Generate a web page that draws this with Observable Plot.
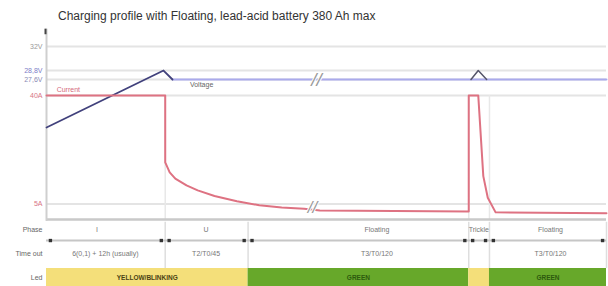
<!DOCTYPE html>
<html><head><meta charset="utf-8">
<script src="https://cdn.jsdelivr.net/npm/d3@7"></script>
<script src="https://cdn.jsdelivr.net/npm/@observablehq/plot@0.6"></script>
<style>
body{margin:0;background:#fff;font-family:"Liberation Sans",Arial,sans-serif;}
#title{height:26px;box-sizing:border-box;padding:10px 0 0 58px;font-size:12px;line-height:13px;color:#333;white-space:nowrap;}
svg{display:block}
</style></head><body>
<div id="title">Charging profile with Floating, lead-acid battery 380 Ah max</div>
<div id="chart"></div>
<script>
// ---- data (schematic time units 0..100, current in A, voltage in V) ----
const currentT = [0, 21.2, 21.2, 22, 23, 25, 27, 30, 34, 38, 42, 46, 48.8, 75.4, 75.4, 77.1, 78, 78.8, 80.2, 100];
const currentA = [40, 40, 18.4, 15.2, 13.2, 11, 9.4, 7.6, 5.9, 4.6, 3.9, 3.5, 2.9, 2.6, 40, 40, 14, 7, 2.3, 2.0];
const voltChargeT = [0, 20.9, 22.5];
const voltChargeV = [21.2, 28.8, 27.6];
const voltFloatT = [22.5, 100];
const voltFloatV = [27.6, 27.6];
const voltTrickleT = [75.8, 77.1, 78.6];
const voltTrickleV = [27.6, 28.8, 27.6];

const voltTicks = [32, 28.8, 27.6];
const voltTickLabels = ["32V", "28,8V", "27,6V"];
const currTicks = [40, 5];
const currTickLabels = ["40A", "5A"];

const phaseBounds = [0, 21.2, 36, 75.4, 79.1, 100];
const phaseNames = ["I", "U", "Floating", "Trickle", "Floating"];
const phaseLabelX = [9, 28.5, 59, 77.2, 90];
const timeoutNames = ["6(0,1) + 12h (usually)", "T2/T0/45", "T3/T0/120", "T3/T0/120"];
const timeoutX = [10.5, 28.5, 59, 90];
const ledNames = ["YELLOW/BLINKING", "GREEN", "", "GREEN"];
const ledStart = [0, 36, 75.4, 79.1];
const ledEnd = [36, 75.4, 79.1, 100];
const ledColors = ["#f4df7a", "#67a82a", "#f4df7a", "#67a82a"];
const ledTextColors = ["#4a3f14", "#2d5a0e", "#2d5a0e", "#2d5a0e"];
const rowNames = ["Phase", "Time out", "Led"];

// dual-axis mapping: volts -> current-scale units
const vToY = d3.scaleLinear().domain([27.6, 28.8]).range([45.16, 48.06]);

const current = currentT.map((t, i) => ({t, y: currentA[i]}));
const vCharge = voltChargeT.map((t, i) => ({t, y: vToY(voltChargeV[i])}));
const vFloat = voltFloatT.map((t, i) => ({t, y: vToY(voltFloatV[i])}));
const vTrickle = voltTrickleT.map((t, i) => ({t, y: vToY(voltTrickleV[i])}));

const ticks = [
  ...voltTicks.map((v, i) => ({y: vToY(v), label: voltTickLabels[i], color: ["#999", "#7c7cc8", "#8a8ab4"][i]})),
  ...currTicks.map((a, i) => ({y: a, label: currTickLabels[i], color: "#d77484"}))
];

const style = {fontFamily: "Liberation Sans, Arial, sans-serif", fontSize: "7px", background: "#fff", overflow: "visible"};

const chart = Plot.plot({
  width: 608, height: 196,
  marginLeft: 46, marginRight: 2, marginTop: 0, marginBottom: 0,
  x: {domain: [0, 100], axis: null},
  y: {domain: [0, 40], range: [193, 69], axis: null},
  style,
  marks: [
    Plot.ruleY(ticks, {y: "y", x1: 0, x2: 100, stroke: "#e4e4e4", strokeWidth: 2}),
    Plot.ruleX([21.2, 75.4, 79.1], {y1: 0, y2: 40, stroke: "#e8e8e8", strokeWidth: 1.5}),
    Plot.ruleY([0], {x1: 0, x2: 100, stroke: "#c9c9c9", strokeWidth: 2.5}),
    Plot.ruleX([0], {y1: -0.6, y2: 61.4, stroke: "#cfcfcf", strokeWidth: 2}),
    Plot.ruleX([0], {y1: 59.6, y2: 61.4, stroke: "#444", strokeWidth: 2, dx: -1}),
    Plot.text(ticks, {x: 0, y: "y", text: "label", fill: "color", dx: -4, textAnchor: "end", fontSize: 7}),
    Plot.line(vFloat, {x: "t", y: "y", stroke: "#aaaaec", strokeWidth: 2}),
    Plot.line(vTrickle, {x: "t", y: "y", stroke: "#55556a", strokeWidth: 1.5}),
    Plot.line(vCharge, {x: "t", y: "y", stroke: "#41417c", strokeWidth: 1.8}),
    Plot.line(current, {x: "t", y: "y", stroke: "#de7282", strokeWidth: 2, curve: "linear"}),
    Plot.text(["//"], {x: 48.2, y: vToY(27.6), fill: "#9a9a9a", stroke: "white", strokeWidth: 2, paintOrder: "stroke", fontSize: 19, fontStyle: "italic"}),
    Plot.text(["//"], {x: 47.5, y: 3.8, fill: "#9a9a9a", stroke: "white", strokeWidth: 2, paintOrder: "stroke", fontSize: 17, fontStyle: "italic"}),
    Plot.text(["Current"], {x: 3.9, y: 41.8, fill: "#d46a7c", fontSize: 7}),
    Plot.text(["Voltage"], {x: 27.7, y: 43.4, fill: "#666", fontSize: 7})
  ]
});

const markerX = [];
for (let i = 0; i < phaseBounds.length - 1; i++) {
  markerX.push(phaseBounds[i] + 0.7, phaseBounds[i + 1] - 0.7);
}
const leds = ledStart.map((s, i) => ({x1: s, x2: ledEnd[i], fill: ledColors[i], label: ledNames[i], tc: ledTextColors[i], cx: (s + ledEnd[i]) / 2}));

const table = Plot.plot({
  width: 608, height: 64,
  marginLeft: 46, marginRight: 2, marginTop: 0, marginBottom: 0,
  x: {domain: [0, 100], axis: null},
  y: {domain: [0, 2], range: [7, 55], axis: null},
  style,
  marks: [
    Plot.ruleX(phaseBounds.slice(1), {y1: -0.3, y2: 1.625, stroke: "#dedede", strokeWidth: 1.5}),
    Plot.rect(leds, {x1: "x1", x2: "x2", y1: 1.625, y2: 2.375, fill: "fill"}),
    Plot.ruleY([0.46], {x1: 0, x2: 100, stroke: "#c6c6c6", strokeWidth: 2}),
    Plot.dot(markerX, {x: d => d, y: 0.46, symbol: "square", r: 1.9, fill: "#333"}),
    Plot.text(phaseNames, {x: (d, i) => phaseLabelX[i], y: 0, text: d => d, fill: "#777", fontSize: 7}),
    Plot.text(timeoutNames, {x: (d, i) => timeoutX[i], y: 1, text: d => d, fill: "#777", fontSize: 7}),
    Plot.text(leds, {x: "cx", y: 2, text: "label", fill: "tc", fontSize: 6.5, fontWeight: "bold"}),
    Plot.text(rowNames, {x: 0, y: (d, i) => i, text: d => d, dx: -4, textAnchor: "end", fill: "#666", fontSize: 7})
  ]
});

const host = document.getElementById("chart");
host.append(chart, table);
</script>
</body></html>
